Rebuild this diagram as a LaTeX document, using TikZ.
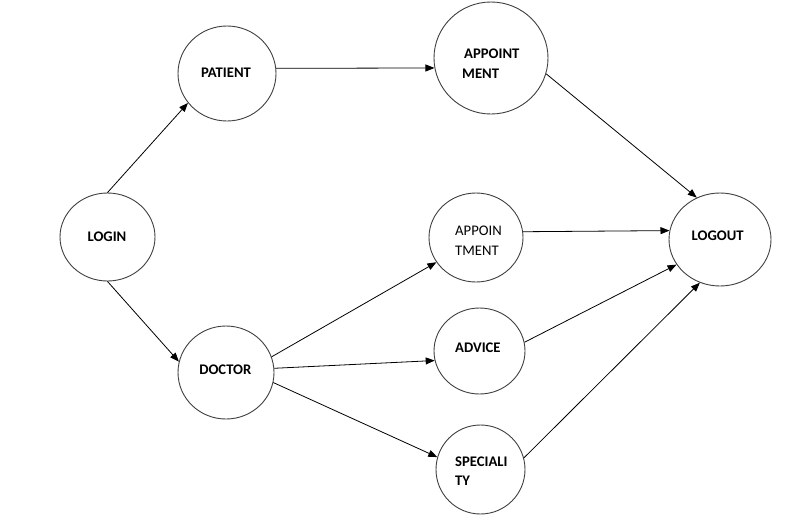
\documentclass[tikz,border=0pt]{standalone}
\usepackage{fontspec}
\setmainfont{Carlito}
\usetikzlibrary{arrows.meta,shapes.geometric}
\begin{document}
\begin{tikzpicture}[x=1pt,y=-1pt,
  proc/.style={ellipse,draw=black!75,line width=0.9pt,inner sep=0pt},
  lbl/.style={inner sep=0pt,anchor=base,font=\fontsize{14.67}{18}\selectfont\bfseries},
  lbll/.style={lbl,anchor=base west},
  flow/.style={line width=0.8pt,-{Triangle[length=9pt,width=7pt]}}]
\useasboundingbox[fill=white] (0,0) rectangle (805,525);
% circles
\node[proc,minimum width=95pt,minimum height=88pt] (login) at (107.5,237) {};
\node[proc,minimum width=98pt,minimum height=95pt] (patient) at (227,73.5) {};
\node[proc,minimum width=96pt,minimum height=93pt] (doctor) at (226,372.5) {};
\node[proc,minimum width=114pt,minimum height=112pt] (app1) at (491,58) {};
\node[proc,minimum width=94pt,minimum height=89pt] (app2) at (476,237.5) {};
\node[proc,minimum width=91pt,minimum height=86pt] (advice) at (479.5,351) {};
\node[proc,minimum width=89pt,minimum height=89pt] (spec) at (480.5,469.5) {};
\node[proc,minimum width=102pt,minimum height=93pt] (logout) at (720,239.5) {};
% labels
\node[lbl] (tlogin) at (107,241.7) {LOGIN};
\node[lbl] (tpatient) at (226,77.7) {PATIENT};
\node[lbl] (tdoctor) at (225.3,374.4) {DOCTOR};
\node[lbll] (tapp1a) at (464,58.7) {APPOINT};
\node[lbll] (tapp1b) at (462,78.7) {MENT};
\node[lbll,font=\fontsize{14.67}{18}\selectfont] (tapp2a) at (455,235.7) {APPOIN};
\node[lbll,font=\fontsize{14.67}{18}\selectfont] (tapp2b) at (455,255.5) {TMENT};
\node[lbl] (tlogout) at (717.7,240.7) {LOGOUT};
\node[lbll] (tadvice) at (455,352.7) {ADVICE};
\node[lbll] (tspeca) at (455,466.7) {SPECIALI};
\node[lbll] (tspecb) at (455,485.7) {TY};
% connectors
\draw[flow] (login.90) -- (patient.217);
\draw[flow] (patient.6) -- (app1.190);
\draw[flow] (login.270) -- (doctor.167.7);
\draw[flow] (doctor.19.7) -- (app2.212.6);
\draw[flow] (doctor.5) -- (advice.192.4);
\draw[flow] (doctor.348.3) -- (spec.164.3);
\draw[flow] (app1.344.3) -- (logout.119.6);
\draw[flow] (app2.7.7) -- (logout.170.5);
\draw[flow] (advice.11.4) -- (logout.210);
\draw[flow] (spec.15.7) -- (logout.245.7);
\end{tikzpicture}
\end{document}
